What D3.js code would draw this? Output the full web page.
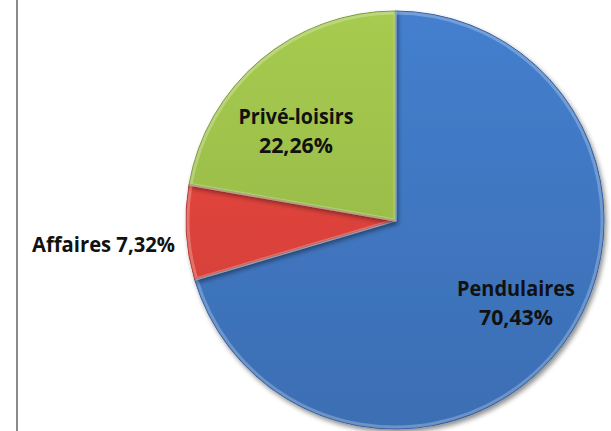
<!DOCTYPE html>
<html>
<head>
<meta charset="utf-8">
<script src="https://cdn.jsdelivr.net/npm/d3@7"></script>
<style>
  body { margin: 0; background: #fff; }
  svg { display: block; }
  .lbl { font-family: "Open Sans", sans-serif; font-weight: bold; font-size: 21px; fill: #111; }
</style>
</head>
<body>
<svg id="chart" width="611" height="431"></svg>
<script>
// data
var categories = ["Pendulaires", "Affaires", "Privé-loisirs"];
var values = [70.43, 7.32, 22.26];
var colors = ["#3f76c0", "#dc433b", "#9bbd4a"];

var width = 611, height = 431;
var cx = 395, cy = 220, r = 209;

var svg = d3.select("#chart");

// left frame line
svg.append("line")
  .attr("x1", 17).attr("x2", 17)
  .attr("y1", 0).attr("y2", height)
  .style("stroke", "#8a8a8a")
  .style("stroke-width", 2);

var defs = svg.append("defs");

var shadow = defs.append("filter").attr("id", "shadow")
  .attr("x", "-10%").attr("y", "-10%").attr("width", "120%").attr("height", "120%");
shadow.append("feGaussianBlur").attr("in", "SourceAlpha").attr("stdDeviation", 2.5);
shadow.append("feOffset").attr("dx", 2).attr("dy", 3).attr("result", "off");
shadow.append("feComponentTransfer").append("feFuncA").attr("type", "linear").attr("slope", 0.45);
var merge = shadow.append("feMerge");
merge.append("feMergeNode");
merge.append("feMergeNode").attr("in", "SourceGraphic");

colors.forEach(function(c, i) {
  var g = defs.append("linearGradient").attr("id", "grad" + i)
    .attr("gradientUnits", "userSpaceOnUse")
    .attr("x1", 0).attr("y1", -r).attr("x2", 0).attr("y2", r);
  g.append("stop").attr("offset", "0%").attr("stop-color", d3.rgb(c).brighter(0.2));
  g.append("stop").attr("offset", "100%").attr("stop-color", d3.rgb(c).darker(0.2));
});

var pie = d3.pie().sort(null).value(function(d) { return d; });
var arcs = pie(values);

var arc = d3.arc().innerRadius(0).outerRadius(r);
var bevel = d3.arc().innerRadius(0).outerRadius(r - 2);

var g = svg.append("g").attr("transform", "translate(" + cx + "," + cy + ")");

var slices = g.selectAll(".slice")
  .data(arcs)
  .enter()
  .append("g")
  .attr("class", "slice")
  .attr("filter", "url(#shadow)");

slices.append("path")
  .attr("d", arc)
  .style("fill", function(d, i) { return "url(#grad" + i + ")"; })
  .style("stroke", function(d, i) { return d3.rgb(colors[i]).darker(0.6); })
  .style("stroke-width", 1);

// soft highlight along edges (bevel look)
slices.append("path")
  .attr("d", bevel)
  .style("fill", "none")
  .style("stroke", "#ffffff")
  .style("stroke-opacity", 0.25)
  .style("stroke-width", 3);

// label anchors, relative to the pie centre
var labelPlace = [
  { x: 121, y: 83, anchor: "middle" },
  { x: -220, y: 25, anchor: "end" },
  { x: -99, y: -89, anchor: "middle" }
];
var labelWidths = [[118, 74], [143], [115, 74]];

function pct(v) { return v.toFixed(2).replace(".", ",") + "%"; }

arcs.forEach(function(d, i) {
  var p = labelPlace[i];
  var lines = i === 1 ? [categories[i] + " " + pct(values[i])] : [categories[i], pct(values[i])];
  var t = g.append("text")
    .attr("class", "lbl")
    .attr("text-anchor", p.anchor);
  lines.forEach(function(s, k) {
    t.append("tspan")
      .attr("x", p.x)
      .attr("y", p.y + k * 29 - (lines.length - 1) * 14.5 + 7)
      .attr("textLength", labelWidths[i][k])
      .attr("lengthAdjust", "spacingAndGlyphs")
      .text(s);
  });
});
</script>
</body>
</html>
